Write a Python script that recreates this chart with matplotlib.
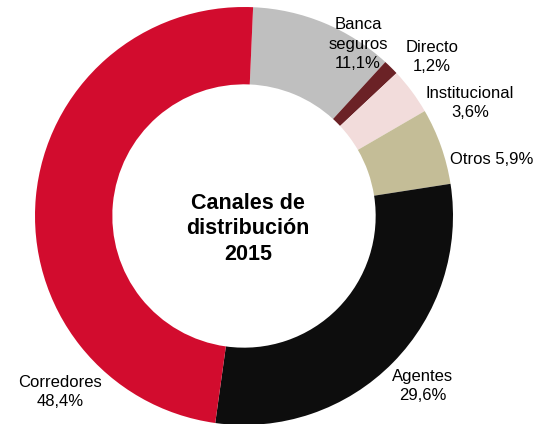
import matplotlib.pyplot as plt

labels = ['Banca\nseguros', 'Directo', 'Institucional', 'Otros', 'Agentes', 'Corredores']
values = [11.1, 1.2, 3.6, 5.9, 29.6, 48.4]
colors = ['#BFBFBF', '#6B2226', '#F2DCDB', '#C4BD97', '#0D0D0D', '#D20C2E']

plt.rcParams['font.family'] = ['Liberation Sans', 'DejaVu Sans']

fig = plt.figure(figsize=(5.41, 4.24), dpi=100)
ax = fig.add_axes([0, 0, 1, 1])

# donut centre / radius in pixel units (y measured from bottom)
cx, cy, r = 244, 208, 209
ax.pie(values, colors=colors, startangle=87.5, counterclock=False,
       center=(cx, cy), radius=r, frame=True,
       wedgeprops=dict(width=r * 0.37, linewidth=0))
ax.set_xlim(0, 541)
ax.set_ylim(0, 424)
ax.set_aspect('equal')
ax.axis('off')

# label positions (x, y from top)
pos = [(358, 44), (432, 57), (470, 103), (492, 160), (423, 386), (60, 392)]
for lab, v, (x, y) in zip(labels, values, pos):
    pct = f'{v:.1f}%'.replace('.', ',')
    sep = ' ' if lab == 'Otros' else '\n'
    ax.text(x, 424 - y, lab + sep + pct, ha='center', va='center',
            fontsize=12, color='#000000', linespacing=1.4)

ax.text(cx + 4, 424 - 229, 'Canales de\ndistribución\n2015', ha='center', va='center',
        fontsize=15.5, fontweight='bold', linespacing=1.3)

fig.savefig('out.png', dpi=100)
